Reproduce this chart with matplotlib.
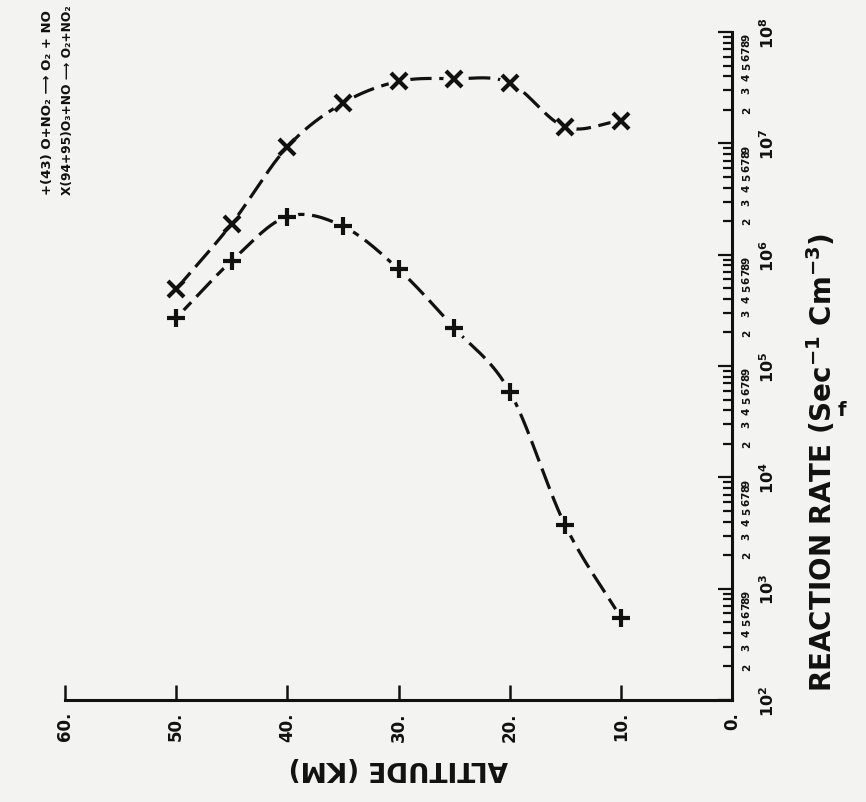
import numpy as np
import matplotlib
matplotlib.use("Agg")
import matplotlib.pyplot as plt
from matplotlib.ticker import FixedLocator, FuncFormatter, LogLocator

# altitude grid (km) and reaction rates (sec^-1 cm^-3)
altitude = [50, 45, 40, 35, 30, 25, 20, 15, 10]
rate_43 = [2.7e5, 8.8e5, 2.2e6, 1.8e6, 7.4e5, 2.2e5, 5.9e4, 3.7e3, 5.5e2]
rate_9495 = [4.9e5, 1.9e6, 9.3e6, 2.3e7, 3.6e7, 3.8e7, 3.5e7, 1.4e7, 1.6e7]

alt_ticks = [60, 50, 40, 30, 20, 10, 0]
alt_labels = ["60.", "50.", "40.", "30.", "20.", "10.", "0."]
decades = [2, 3, 4, 5, 6, 7, 8]

legend_lines = ["+(43) O+NO\u2082 \u27f6 O\u2082 + NO",
                "X(94+95)O\u2083+NO \u27f6 O\u2082+NO\u2082"]
legend_sizes = [9.5, 8.8]

INK = "#111111"
PAPER = "#f3f3f1"


def catmull(x, y, n=30):
    # smooth curve through the points, in (10 km, decade) units so it bends evenly
    p = np.column_stack([np.asarray(x) / 10.0, np.log10(y)])
    p = np.vstack([2 * p[0] - p[1], p, 2 * p[-1] - p[-2]])
    t = np.linspace(0, 1, n, endpoint=False)[:, None]
    segs = []
    for i in range(1, len(p) - 2):
        p0, p1, p2, p3 = p[i - 1], p[i], p[i + 1], p[i + 2]
        segs.append(0.5 * (2 * p1 + (-p0 + p2) * t
                           + (2 * p0 - 5 * p1 + 4 * p2 - p3) * t ** 2
                           + (-p0 + 3 * p1 - 3 * p2 + p3) * t ** 3))
    segs.append(p[-2][None])
    c = np.vstack(segs)
    return c[:, 0] * 10.0, 10 ** c[:, 1]


fig = plt.figure(figsize=(8.66, 8.03), dpi=100, facecolor=PAPER)
ax = fig.add_axes([65 / 866, 1 - 701 / 803, 667 / 866, 668 / 803])
ax.set_facecolor(PAPER)

ax.set_yscale("log")
ax.set_xlim(60, 0)
ax.set_ylim(1e2, 1e8)

for name in ["top", "left"]:
    ax.spines[name].set_visible(False)
for name in ["bottom", "right"]:
    ax.spines[name].set_linewidth(2.2)
    ax.spines[name].set_color(INK)

# altitude axis
ax.xaxis.set_major_locator(FixedLocator(alt_ticks))
ax.set_xticklabels(alt_labels, rotation=90, fontsize=12, fontweight="bold", color=INK)
ax.tick_params(axis="x", direction="in", length=11, width=1.8, pad=8, colors=INK)

# reaction rate axis on the right
ax.yaxis.set_ticks_position("right")
ax.yaxis.set_major_locator(FixedLocator([10.0 ** d for d in decades]))
ax.yaxis.set_major_formatter(FuncFormatter(lambda v, pos: r"$\mathbf{10^{%d}}$" % round(np.log10(v))))
ax.yaxis.set_minor_locator(LogLocator(base=10, subs=np.arange(2, 10)))
ax.yaxis.set_minor_formatter(FuncFormatter(lambda v, pos: "%d" % round(v / 10 ** np.floor(np.log10(v) + 1e-9))))
ax.tick_params(axis="y", which="major", direction="in", length=10, width=1.6, pad=19,
               labelsize=11.5, labelrotation=90, colors=INK)
ax.tick_params(axis="y", which="minor", direction="in", length=6.5, width=1.6, pad=7,
               labelsize=7.5, labelrotation=90, colors=INK)
for lab in ax.yaxis.get_minorticklabels():
    lab.set_fontweight("bold")
for lab in ax.yaxis.get_majorticklabels():
    lab.set_va("center")

# the two reaction curves
for rates, mk in [(rate_43, "+"), (rate_9495, "x")]:
    cx, cy = catmull(altitude, rates)
    ax.plot(cx, cy, color=INK, lw=2.3, dashes=(6.8, 2.4), solid_capstyle="butt",
            dash_capstyle="butt", zorder=2)
    ax.plot(altitude, rates, ls="none", marker="o", ms=16, mfc=PAPER, mec="none", zorder=3)
    ax.plot(altitude, rates, ls="none", marker=mk, ms=12.5 if mk == "+" else 11,
            mew=3.0, color=INK, zorder=4)

ax.text(0.5, -0.1, "ALTITUDE (KM)", transform=ax.transAxes, rotation=180,
        ha="center", va="center", fontsize=19, fontweight="bold", color=INK)
fig.text(822 / 866, 1 - 462 / 803, r"REACTION RATE (Sec$^{\mathbf{-1}}$ Cm$^{\mathbf{-3}}$)",
         rotation=90, ha="center", va="center", fontsize=20, fontweight="bold", color=INK)
fig.text(842 / 866, 1 - 410 / 803, "f", ha="center", va="center", fontsize=14,
         fontweight="bold", color=INK)

for i, line in enumerate(legend_lines):
    fig.text((48 + 20 * i) / 866, 1 - 195 / 803, line, rotation=90, ha="center",
             va="bottom", fontsize=legend_sizes[i], fontweight="bold", color=INK)

fig.savefig("out.png", dpi=100, facecolor=PAPER)
